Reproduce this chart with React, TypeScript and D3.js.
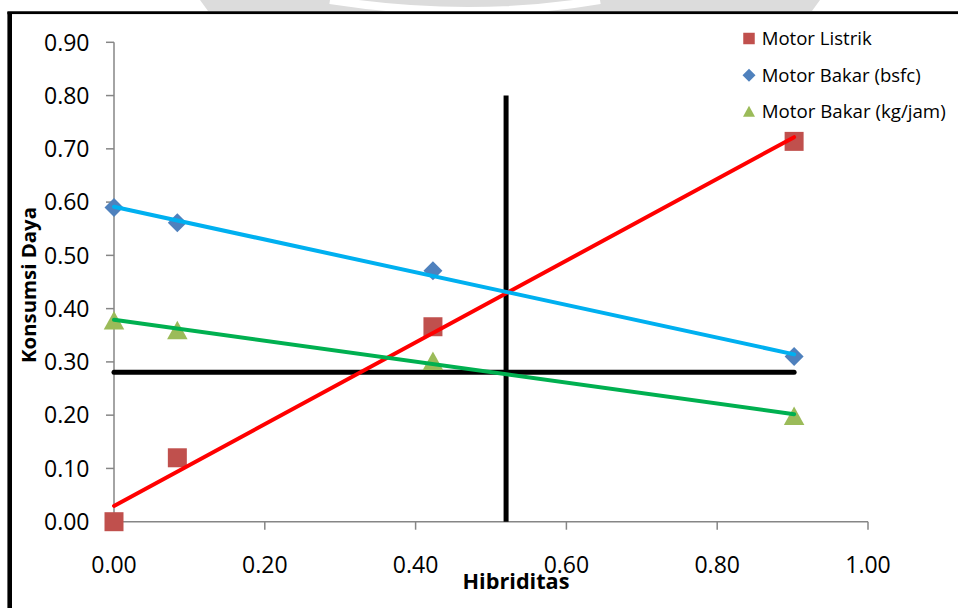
import React from "react";
import * as d3 from "d3";

const xValues = [0, 0.084, 0.423, 0.902];
const motorListrik = [0.0, 0.12, 0.366, 0.714];
const motorBakarBsfc = [0.59, 0.561, 0.471, 0.31];
const motorBakarKgJam = [0.378, 0.36, 0.302, 0.199];
const xTicks = [0, 0.2, 0.4, 0.6, 0.8, 1.0];
const yTicks = [0, 0.1, 0.2, 0.3, 0.4, 0.5, 0.6, 0.7, 0.8, 0.9];
const refHorizontal = { y: 0.2805, x0: 0, x1: 0.902 };
const refVertical = { x: 0.52, y0: 0, y1: 0.8 };
const legendLabels = ["Motor Listrik", "Motor Bakar (bsfc)", "Motor Bakar (kg/jam)"];

const W = 958;
const H = 608;
const x = d3.scaleLinear().domain([0, 1]).range([114, 868]);
const y = d3.scaleLinear().domain([0, 0.9]).range([521.7, 42.3]);

function regression(xs: number[], ys: number[]) {
  const mx = d3.mean(xs) as number;
  const my = d3.mean(ys) as number;
  let sxy = 0, sxx = 0;
  xs.forEach((v, i) => {
    sxy += (v - mx) * (ys[i] - my);
    sxx += (v - mx) * (v - mx);
  });
  const slope = sxy / sxx;
  const intercept = my - slope * mx;
  const x0 = d3.min(xs) as number;
  const x1 = d3.max(xs) as number;
  return [
    [x0, intercept + slope * x0],
    [x1, intercept + slope * x1],
  ] as [number, number][];
}

const line = d3
  .line<[number, number]>()
  .x((d) => x(d[0]))
  .y((d) => y(d[1]));

const squareMarker = (cx: number, cy: number, s: number) =>
  `M${cx - s / 2},${cy - s / 2}h${s}v${s}h${-s}Z`;
const diamondMarker = (cx: number, cy: number, r: number) =>
  `M${cx},${cy - r}L${cx + r},${cy}L${cx},${cy + r}L${cx - r},${cy}Z`;
const triangleMarker = (cx: number, cy: number, w: number, h: number) =>
  `M${cx},${cy - h / 2}L${cx + w / 2},${cy + h / 2}L${cx - w / 2},${cy + h / 2}Z`;

const RED = "#C0504D";
const BLUE = "#4F81BD";
const GREEN = "#9BBB59";
const font = "'Open Sans', 'DejaVu Sans', sans-serif";

export default function App() {
  const series = [
    { name: legendLabels[0], vals: motorListrik, trend: "#FF0000" },
    { name: legendLabels[1], vals: motorBakarBsfc, trend: "#00B0F0" },
    { name: legendLabels[2], vals: motorBakarKgJam, trend: "#00B050" },
  ];
  const legendRows = [45, 81.7, 117.7];
  const legendWidths = [110, 159, 184];

  return (
    <svg
      width={W}
      height={H}
      style={{ position: "absolute", left: 0, top: 0, display: "block", background: "#fff" }}
    >
      {/* faint watermark remnants above the frame */}
      <g>
        <path d="M200,0 L820,0 L812,11 L208,11 Z" fill="#dcdcdc" />
        <path d="M330,0 Q470,22 600,0" fill="none" stroke="#fff" strokeWidth={8} />
      </g>
      {/* frame */}
      <line x1={9.7} y1={12} x2={9.7} y2={H} stroke="#000" strokeWidth={4.6} />
      <line x1={7.4} y1={12.8} x2={W} y2={12.8} stroke="#000" strokeWidth={3} />
      <rect x={12} y={14.3} width={W - 12} height={H - 14.3} fill="#fff" />

      {/* axes */}
      <g stroke="#868686" strokeWidth={1.5} fill="none">
        <line x1={x(0)} y1={y(0.9)} x2={x(0)} y2={y(0)} />
        <line x1={x(0)} y1={y(0)} x2={x(1)} y2={y(0)} />
        {yTicks.map((t) => (
          <line key={"yt" + t} x1={x(0) - 8} x2={x(0)} y1={y(t)} y2={y(t)} />
        ))}
        {xTicks.map((t) => (
          <line key={"xt" + t} x1={x(t)} x2={x(t)} y1={y(0)} y2={y(0) + 8} />
        ))}
      </g>
      <g fontFamily={font} fontSize={23} fill="#000">
        {yTicks.map((t) => (
          <text key={"yl" + t} x={89.5} y={y(t) + 8.2} textAnchor="end">
            {t.toFixed(2)}
          </text>
        ))}
        {xTicks.map((t) => (
          <text key={"xl" + t} x={x(t)} y={573.3} textAnchor="middle">
            {t.toFixed(2)}
          </text>
        ))}
      </g>

      {/* reference lines */}
      <line
        x1={x(refHorizontal.x0)}
        x2={x(refHorizontal.x1)}
        y1={y(refHorizontal.y)}
        y2={y(refHorizontal.y)}
        stroke="#000"
        strokeWidth={5}
        strokeLinecap="round"
      />
      <line
        x1={x(refVertical.x)}
        x2={x(refVertical.x)}
        y1={y(refVertical.y0)}
        y2={y(refVertical.y1)}
        stroke="#000"
        strokeWidth={5}
      />

      {/* markers */}
      <g>
        {xValues.map((xv, i) => (
          <path key={"sq" + i} d={squareMarker(x(xv), y(motorListrik[i]), 19)} fill={RED} />
        ))}
        {xValues.map((xv, i) => (
          <path key={"dm" + i} d={diamondMarker(x(xv), y(motorBakarBsfc[i]), 9.5)} fill={BLUE} />
        ))}
        {xValues.map((xv, i) => (
          <path
            key={"tr" + i}
            d={triangleMarker(x(xv), y(motorBakarKgJam[i]), 20.5, 18.5)}
            fill={GREEN}
          />
        ))}
      </g>

      {/* trend lines */}
      {series.map((s) => (
        <path
          key={"trend" + s.name}
          d={line(regression(xValues, s.vals)) as string}
          fill="none"
          stroke={s.trend}
          strokeWidth={4}
          strokeLinecap="round"
        />
      ))}

      {/* legend */}
      <g>
        <path d={squareMarker(749, legendRows[0] - 6.5, 11.5)} fill={RED} />
        <path d={diamondMarker(749, legendRows[1] - 6.5, 6.5)} fill={BLUE} />
        <path d={triangleMarker(749, legendRows[2] - 6.5, 12, 11)} fill={GREEN} />
        {legendLabels.map((l, i) => (
          <text
            key={l}
            x={761.7}
            y={legendRows[i]}
            fontFamily={font}
            fontSize={17.5}
            textLength={legendWidths[i]}
            lengthAdjust="spacingAndGlyphs"
            fill="#000"
          >
            {l}
          </text>
        ))}
      </g>

      {/* axis titles */}
      <text
        x={516}
        y={589}
        textAnchor="middle"
        fontFamily={font}
        fontWeight="bold"
        fontSize={20.5}
        textLength={107}
        lengthAdjust="spacingAndGlyphs"
      >
        Hibriditas
      </text>
      <text
        transform="translate(36,285) rotate(-90)"
        textAnchor="middle"
        fontFamily={font}
        fontWeight="bold"
        fontSize={20}
        textLength={156}
        lengthAdjust="spacingAndGlyphs"
      >
        Konsumsi Daya
      </text>
    </svg>
  );
}
